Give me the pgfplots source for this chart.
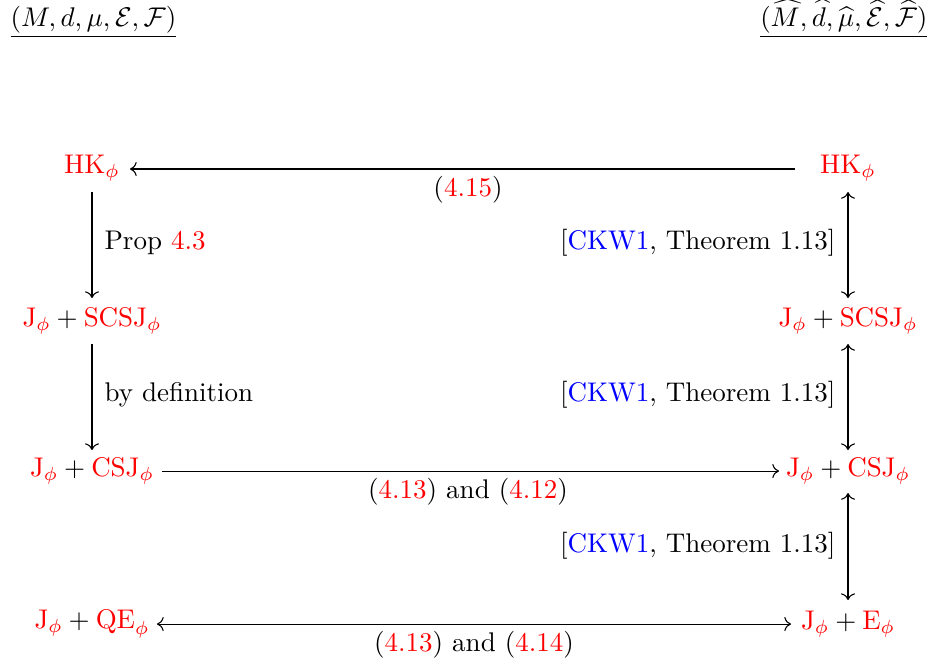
\documentclass[border=0pt]{standalone}
\usepackage{amsmath,amssymb}
\usepackage{xcolor}
\usepackage{pgfplots}
\pgfplotsset{compat=1.18}
\usetikzlibrary{arrows.meta}

\newcommand{\rd}[1]{\textcolor{red}{#1}}
\newcommand{\bl}[1]{\textcolor{blue}{#1}}
\newcommand{\ckw}{[\bl{CKW1}, Theorem 1.13]}

\begin{document}
\begin{tikzpicture}
% the page is the axis box, nothing more
\useasboundingbox (0,0) rectangle (345.9pt,246.3pt);
\begin{axis}[
    at={(0,0)}, anchor=south west,
    width=345.9pt, height=246.3pt,
    scale only axis,
    hide axis,
    clip=false,
    xmin=0, xmax=934,
    ymin=0, ymax=665,
    y dir=reverse,
]
% arrows (pixel coordinates)
\addplot[-{To}, black] coordinates {(795,169) (130,169)};
\addplot[-{To}, black] coordinates {(92,192) (92,298)};
\addplot[{To}-{To}, black] coordinates {(848,192) (848,298)};
\addplot[-{To}, black] coordinates {(92,344) (92,450)};
\addplot[{To}-{To}, black] coordinates {(848,344) (848,450)};
\addplot[-{To}, black] coordinates {(162,471) (779,471)};
\addplot[{To}-{To}, black] coordinates {(848,493) (848,600)};
\addplot[{To}-{To}, black] coordinates {(157,624) (791,624)};

% spaces
\node[anchor=base west, inner sep=0pt] at (axis cs:10,26)
  {$\underline{(M,d,\mu,\mathcal{E},\mathcal{F})}$};
\node[anchor=base east, inner sep=0pt] at (axis cs:928,26)
  {$\underline{(\widehat{M},\widehat{d},\widehat{\mu},\widehat{\mathcal{E}},\widehat{\mathcal{F}})}$};

% objects
\node at (axis cs:92,168) {$\rd{\mathrm{HK}_\phi}$};
\node at (axis cs:848,168) {$\rd{\mathrm{HK}_\phi}$};
\node at (axis cs:92,321) {$\rd{\mathrm{J}_\phi}+\rd{\mathrm{SCSJ}_\phi}$};
\node at (axis cs:848,321) {$\rd{\mathrm{J}_\phi}+\rd{\mathrm{SCSJ}_\phi}$};
\node at (axis cs:92,471) {$\rd{\mathrm{J}_\phi}+\rd{\mathrm{CSJ}_\phi}$};
\node at (axis cs:848,471) {$\rd{\mathrm{J}_\phi}+\rd{\mathrm{CSJ}_\phi}$};
\node at (axis cs:92,624) {$\rd{\mathrm{J}_\phi}+\rd{\mathrm{QE}_\phi}$};
\node at (axis cs:848,624) {$\rd{\mathrm{J}_\phi}+\rd{\mathrm{E}_\phi}$};

% arrow labels
\node at (axis cs:468,190) {(\rd{4.15})};
\node[anchor=west] at (axis cs:95,243) {Prop \rd{4.3}};
\node[anchor=west] at (axis cs:95,395) {by definition};
\node[anchor=east] at (axis cs:845,243) {\ckw};
\node[anchor=east] at (axis cs:845,395) {\ckw};
\node[anchor=east] at (axis cs:845,546) {\ckw};
\node at (axis cs:468,492) {(\rd{4.13}) and (\rd{4.12})};
\node at (axis cs:474,645) {(\rd{4.13}) and (\rd{4.14})};
\end{axis}
\end{tikzpicture}
\end{document}
